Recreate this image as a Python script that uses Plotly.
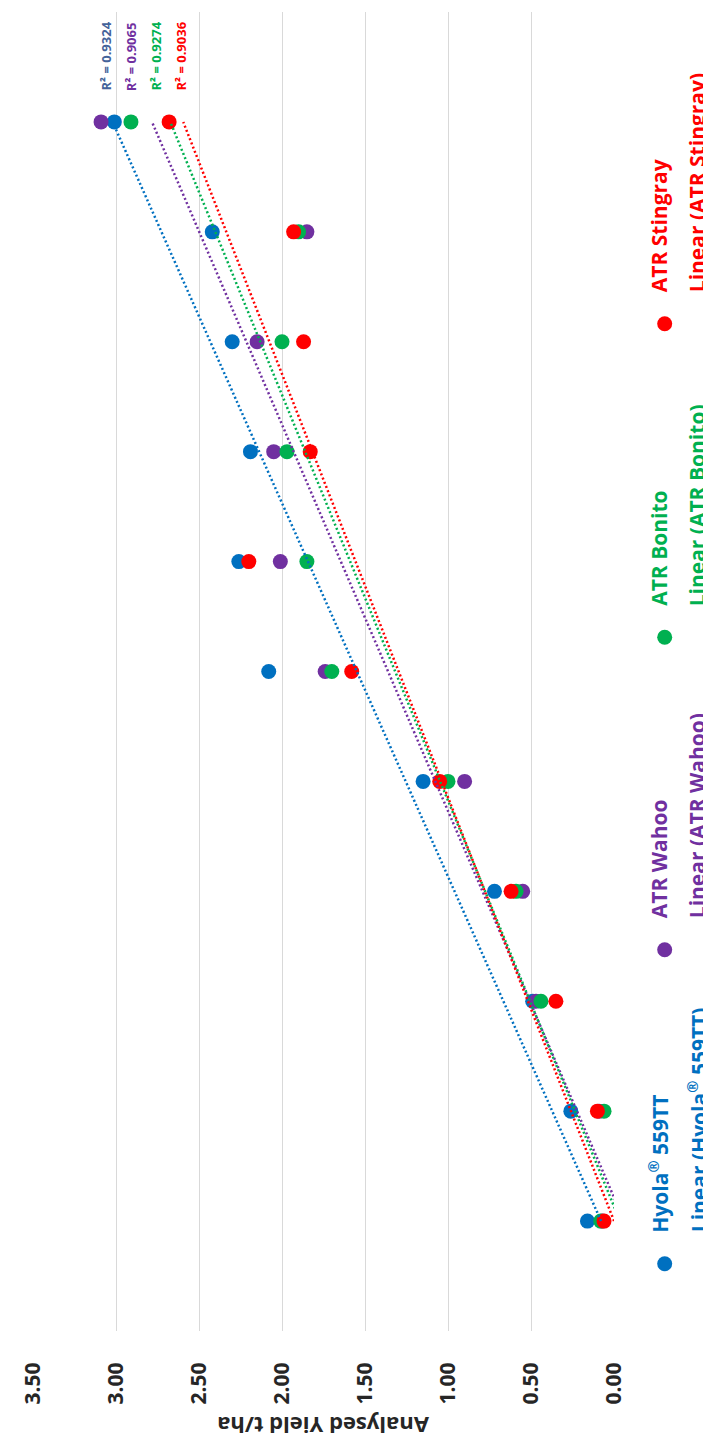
import numpy as np
import plotly.graph_objects as go

# ---------------- data ----------------
trial_index = [1, 2, 3, 4, 5, 6, 7, 8, 9, 10, 11]
hyola = [0.16, 0.26, 0.49, 0.72, 1.15, 2.08, 2.26, 2.19, 2.30, 2.42, 3.01]
wahoo = [0.07, 0.09, 0.47, 0.55, 0.90, 1.74, 2.01, 2.05, 2.15, 1.85, 3.09]
bonito = [0.08, 0.06, 0.44, 0.59, 1.00, 1.70, 1.85, 1.97, 2.00, 1.90, 2.91]
stingray = [0.06, 0.10, 0.35, 0.62, 1.05, 1.58, 2.20, 1.83, 1.87, 1.93, 2.68]

series_names = ["Hyola<sup>\u00ae</sup> 559TT", "ATR Wahoo", "ATR Bonito", "ATR Stingray"]
series_values = [hyola, wahoo, bonito, stingray]
series_colors = ["#0070C0", "#7030A0", "#00B050", "#FF0000"]
r2_labels = ["R\u00b2 = 0.9324", "R\u00b2 = 0.9065", "R\u00b2 = 0.9274", "R\u00b2 = 0.9036"]
r2_colors = ["#44639A", "#7030A0", "#00B050", "#FF0000"]
yield_ticks = [0.0, 0.5, 1.0, 1.5, 2.0, 2.5, 3.0, 3.5]

# ---------------- layout geometry ----------------
W, H = 711, 1441
ML, MR, MT, MB = 25, 105, 4, 118
PW, PH = W - ML - MR, H - MT - MB
FONT = "Open Sans"


def px(xp):
    return (xp - ML) / PW


def py(yp):
    return (H - MB - yp) / PH


fig = go.Figure()

# markers
for name, vals, col in zip(series_names, series_values, series_colors):
    fig.add_trace(go.Scatter(
        x=vals, y=trial_index, mode="markers", name=name,
        marker=dict(size=15, color=col, line=dict(width=0)),
        showlegend=False, hoverinfo="x+y"))

# linear trendlines
xi = np.array(trial_index, dtype=float)
for name, vals, col in zip(series_names, series_values, series_colors):
    slope, intercept = np.polyfit(xi, np.array(vals), 1)
    ends = np.array([xi.min(), xi.max()])
    fig.add_trace(go.Scatter(
        x=slope * ends + intercept, y=ends, mode="lines",
        name="Linear (" + name + ")",
        line=dict(color=col, width=2.5, dash="2px,2.5px"),
        showlegend=False, hoverinfo="skip"))

annotations = []
shapes = []

# R² labels
r2_x = [97, 122.7, 147, 172]
for lab, col, xp in zip(r2_labels, r2_colors, r2_x):
    annotations.append(dict(
        x=px(xp), y=py(85), xref="paper", yref="paper", text="<b>" + lab + "</b>",
        textangle=-90, showarrow=False, xanchor="center", yanchor="bottom",
        font=dict(family=FONT, size=13, color=col)))

# custom rotated legend
leg_y = [1255.7, 941.7, 629.3, 315.7]
for name, col, yp in zip(series_names, series_colors, leg_y):
    r = 7.5
    shapes.append(dict(type="circle", xref="paper", yref="paper",
                       x0=px(656.7 - r), x1=px(656.7 + r), y0=py(yp + r), y1=py(yp - r),
                       fillcolor=col, line=dict(width=0)))
    annotations.append(dict(
        x=px(651), y=py(yp - 29), xref="paper", yref="paper",
        text="<b>" + name + "</b>", textangle=-90, showarrow=False,
        xanchor="center", yanchor="bottom",
        font=dict(family=FONT, size=21, color=col)))
    shapes.append(dict(type="line", xref="paper", yref="paper",
                       x0=px(697.7), x1=px(697.7), y0=py(yp + 24), y1=py(yp - 23),
                       line=dict(color=col, width=2.5, dash="2px,2.5px")))
    annotations.append(dict(
        x=px(689), y=py(yp - 29), xref="paper", yref="paper",
        text="<b>Linear (" + name + ")</b>", textangle=-90, showarrow=False,
        xanchor="center", yanchor="bottom",
        font=dict(family=FONT, size=21, color=col)))

# axis title (upside down)
annotations.append(dict(
    x=0.5, y=py(1418), xref="paper", yref="paper",
    text="<b>Analysed Yield t/ha</b>", textangle=180, showarrow=False,
    xanchor="center", yanchor="middle",
    font=dict(family=FONT, size=22, color="#262626")))

fig.update_layout(
    width=W, height=H,
    margin=dict(l=ML, r=MR, t=MT, b=MB, pad=0),
    paper_bgcolor="white", plot_bgcolor="white",
    showlegend=False,
    annotations=annotations, shapes=shapes,
    xaxis=dict(range=[3.5, 0], tickvals=yield_ticks, tickformat=".2f",
               tickangle=-90, showgrid=True, gridcolor="#D9D9D9", gridwidth=1,
               zeroline=False, showline=False, ticks="outside", ticklen=22,
               tickcolor="rgba(0,0,0,0)",
               tickfont=dict(family=FONT, size=21, color="#262626", weight="bold")),
    yaxis=dict(range=[0, 12], showgrid=False, zeroline=False, showline=False,
               showticklabels=False, ticks=""),
)

fig.write_html("out.html")
